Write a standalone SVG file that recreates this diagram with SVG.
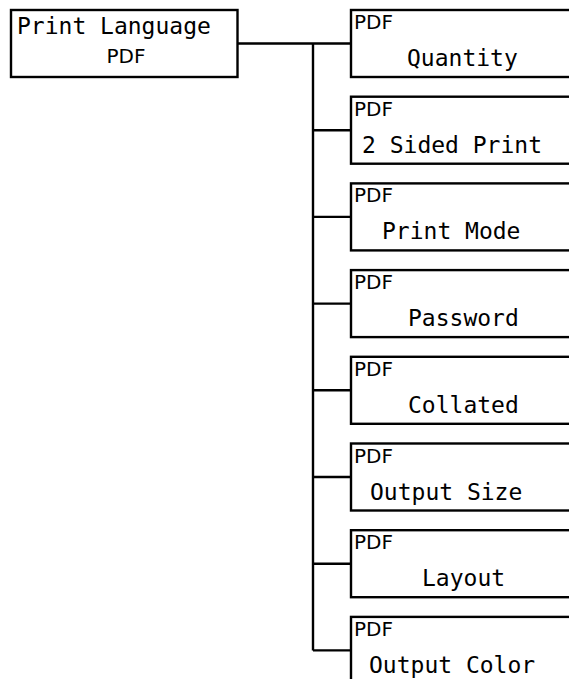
<svg xmlns="http://www.w3.org/2000/svg" width="569" height="679" viewBox="0 0 569 679">
<style>
.box{fill:#fff;stroke:#000;stroke-width:2.4}
.ln{fill:none;stroke:#000;stroke-width:2.4}
.mono{font-family:"DejaVu Sans Mono",monospace;font-size:23px;fill:#000}
.sans{font-family:"DejaVu Sans",sans-serif;font-size:20px;fill:#000}
</style>
<rect width="569" height="679" fill="#fff"/>
<g id="connectors">
<path class="ln" d="M237,43.5 H351 M313,43.5 V650.5 M313,130.2 H351 M313,216.9 H351 M313,303.6 H351 M313,390.3 H351 M313,477 H351 M313,563.7 H351 M313,650.4 H351"/>
</g>
<g id="root">
<rect class="box" x="11" y="10" width="226.5" height="67"/>
<text class="mono" x="17" y="34">Print Language</text>
<text class="sans" x="126" y="63" text-anchor="middle">PDF</text>
</g>
<g id="n1">
<rect class="box" x="351" y="10" width="240" height="67"/>
<text class="sans" x="354" y="29">PDF</text>
<text class="mono" x="407" y="66">Quantity</text>
</g>
<g id="n2">
<rect class="box" x="351" y="96.7" width="240" height="67"/>
<text class="sans" x="354" y="115.7">PDF</text>
<text class="mono" x="362" y="152.7">2 Sided Print</text>
</g>
<g id="n3">
<rect class="box" x="351" y="183.4" width="240" height="67"/>
<text class="sans" x="354" y="202.4">PDF</text>
<text class="mono" x="382" y="239.4">Print Mode</text>
</g>
<g id="n4">
<rect class="box" x="351" y="270.1" width="240" height="67"/>
<text class="sans" x="354" y="289.1">PDF</text>
<text class="mono" x="408" y="326.1">Password</text>
</g>
<g id="n5">
<rect class="box" x="351" y="356.8" width="240" height="67"/>
<text class="sans" x="354" y="375.8">PDF</text>
<text class="mono" x="408" y="412.8">Collated</text>
</g>
<g id="n6">
<rect class="box" x="351" y="443.5" width="240" height="67"/>
<text class="sans" x="354" y="462.5">PDF</text>
<text class="mono" x="370" y="499.5">Output Size</text>
</g>
<g id="n7">
<rect class="box" x="351" y="530.2" width="240" height="67"/>
<text class="sans" x="354" y="549.2">PDF</text>
<text class="mono" x="422" y="586.2">Layout</text>
</g>
<g id="n8">
<rect class="box" x="351" y="616.9" width="240" height="67"/>
<text class="sans" x="354" y="635.9">PDF</text>
<text class="mono" x="369" y="672.9">Output Color</text>
</g>
</svg>
